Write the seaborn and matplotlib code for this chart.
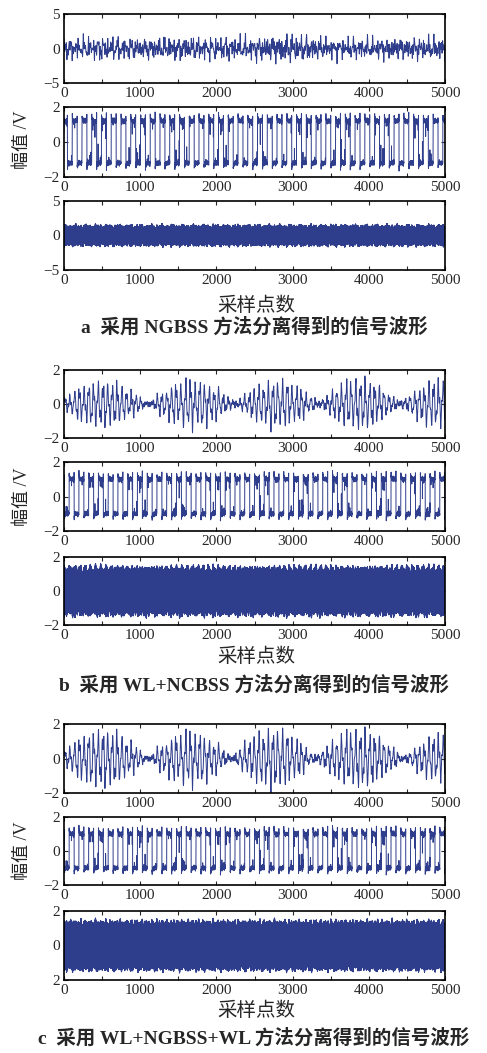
import numpy as np
import matplotlib
matplotlib.use('Agg')
import matplotlib.pyplot as plt
import seaborn as sns

sns.set_style('ticks')
plt.rcParams['font.family'] = ['Liberation Serif', 'Noto Sans CJK SC', 'DejaVu Sans']
plt.rcParams['axes.unicode_minus'] = True

# ---- values ----
n_samples = 5000
x_ticks = [0, 1000, 2000, 3000, 4000, 5000]
x_minor = [500, 1500, 2500, 3500, 4500]

# AM component (panels b1, c1): envelope nulls and lobe peak amplitudes
nulls_b = [-100, 1100, 2250, 3350, 4400, 5500]
peaks_b = [1.45, 1.45, 1.45, 1.6, 1.5]
nulls_c = [-100, 1100, 2200, 3300, 4450, 5550]
peaks_c = [1.8, 1.6, 1.8, 1.8, 1.5]
carrier_period = 62

# NGBSS mixed output (panel a1): peak amplitude every 500 samples
a1_peak_pos = [0, 500, 1000, 1500, 2000, 2500, 3000, 3500, 4000, 4500, 5000]
a1_peak = [1.3, 1.5, 1.3, 1.5, 1.4, 1.5, 1.8, 1.3, 1.3, 1.4, 1.5]

# square-wave component (panels a2, b2, c2)
square_period = 128
square_level = {'a': 1.2, 'b': 1.0, 'c': 1.0}

# dense noise component (panels a3, b3, c3): band half-height and spike height
band_level = {'a': 1.3, 'b': 1.28, 'c': 1.3}
band_spike = {'a': 0.45, 'b': 0.35, 'c': 0.3}

# axis limits and tick labels per panel
y_lims = {'a1': 5, 'a2': 2, 'a3': 5, 'b1': 2, 'b2': 2, 'b3': 2,
          'c1': 2, 'c2': 2, 'c3': 2}
c3_tick_labels = ['2', '0', '2']

captions = ['a  采用 NGBSS 方法分离得到的信号波形',
            'b  采用 WL+NCBSS 方法分离得到的信号波形',
            'c  采用 WL+NGBSS+WL 方法分离得到的信号波形']
x_label = '采样点数'
y_label = '幅值 /V'

line_color = '#2f3e8c'

n = np.arange(n_samples)


def texture(freqs, phases):
    """Deterministic jagged texture built from a few incommensurate tones."""
    t = np.zeros(n_samples)
    for f, p in zip(freqs, phases):
        t += np.sin(2 * np.pi * f * n + p)
    return t / np.abs(t).max()


def am_signal(nulls, peaks):
    env = np.zeros(n_samples)
    sign = np.ones(n_samples)
    for i, a in enumerate(peaks):
        lo, hi = nulls[i], nulls[i + 1]
        m = (n >= lo) & (n < hi)
        env[m] = a * np.sin(np.pi * (n[m] - lo) / (hi - lo))
        sign[m] = (-1) ** i
    carrier = (np.sin(2 * np.pi * n / carrier_period)
               + 0.45 * np.sin(2 * np.pi * n / 23.7 + 0.8)) / 1.3
    wobble = 0.75 + 0.4 * np.abs(texture([0.0089, 0.0143, 0.0231], [0.5, 1.7, 2.9]))
    hf = texture([0.0213, 0.0377, 0.0519, 0.113], [0.3, 1.1, 2.0, 0.6])
    return sign * env * carrier * wobble + 0.25 * hf


def square_signal(level, phase):
    sq = np.sign(np.sin(2 * np.pi * (n + phase) / square_period) + 1e-9)
    pos = (n + phase) % (square_period / 2)
    over = 0.35 * np.exp(-pos / 5.0)
    ripple = 0.2 * texture([0.47, 0.43, 0.311, 0.137], [0.2, 0.9, 1.7, 2.4])
    depth = np.clip(texture([0.0517, 0.0291, 0.0733], [0.4, 1.9, 2.6]), 0, 1)
    glitch = np.where((n % 14 == 0) & (pos > 6), -1.1 * level * depth * sq, 0.0)
    return sq * (level + over) + ripple + glitch


def band_signal(level, spike, k):
    edge = level + spike * np.clip(texture([0.0071 * k, 0.0149, 0.0311, 0.0583],
                                           [k, 0.4, 2.2, 1.3]), -0.6, 1.0)
    edge2 = level + spike * np.clip(texture([0.0093, 0.0171 * k, 0.0277, 0.0641],
                                            [0.7, k, 1.6, 0.2]), -0.6, 1.0)
    return np.where(n % 2 == 0, edge, -edge2)


a1_amp = np.interp(n, a1_peak_pos, a1_peak)
a1 = a1_amp * texture([1 / carrier_period, 0.0437, 0.0311, 0.0719, 0.0113, 0.0587],
                      [0.0, 1.3, 2.1, 0.5, 1.9, 2.7]) * 1.7

signals = {
    'a1': a1,
    'a2': square_signal(square_level['a'], 20),
    'a3': band_signal(band_level['a'], band_spike['a'], 1),
    'b1': am_signal(nulls_b, peaks_b),
    'b2': square_signal(square_level['b'], 60),
    'b3': band_signal(band_level['b'], band_spike['b'], 2),
    'c1': am_signal(nulls_c, peaks_c),
    'c2': square_signal(square_level['c'], 60),
    'c3': band_signal(band_level['c'], band_spike['c'], 3),
}

# ---- layout (pixels) ----
W, H = 487, 1053
panel_px = {
    'a1': (14, 83), 'a2': (107, 177), 'a3': (201, 270),
    'b1': (370, 438), 'b2': (462, 531), 'b3': (557, 625),
    'c1': (724, 793), 'c2': (817, 885), 'c3': (911, 980),
}
left_px, right_px = 64, 445

fig = plt.figure(figsize=(W / 100, H / 100), dpi=100)

for key, (top, bottom) in panel_px.items():
    ax = fig.add_axes([left_px / W, 1 - bottom / H,
                       (right_px - left_px) / W, (bottom - top) / H])
    sns.lineplot(x=n, y=signals[key], ax=ax, color=line_color,
                 linewidth=0.7, estimator=None, errorbar=None)
    lim = y_lims[key]
    ax.set_xlim(0, n_samples)
    ax.set_ylim(-lim, lim)
    ax.set_xticks(x_ticks)
    ax.set_xticks(x_minor, minor=True)
    ax.set_yticks([-lim, 0, lim])
    if key == 'c3':
        ax.set_yticklabels(c3_tick_labels[::-1])
    ax.set_xlabel('')
    ax.set_ylabel('')
    ax.tick_params(which='both', direction='in', top=True, right=True,
                   length=3, width=0.8, labelsize=11, pad=3)
    for sp in ax.spines.values():
        sp.set_linewidth(1.2)
        sp.set_color('black')

label_rows = [(305, 327, 140), (657, 685, 497), (1010, 1038, 851)]
for (yx, yc, yy), cap in zip(label_rows, captions):
    fig.text(256 / W, 1 - yx / H, x_label, ha='center', va='center',
             fontsize=14, family=['Noto Sans CJK SC'])
    fig.text(254 / W, 1 - yc / H, cap, ha='center', va='center',
             fontsize=14, fontweight='bold',
             family=['Liberation Serif', 'Noto Sans CJK SC'])
    fig.text(22 / W, 1 - yy / H, y_label, ha='center', va='center',
             rotation=90, fontsize=13,
             family=['Liberation Serif', 'Noto Sans CJK SC'])

fig.savefig('out.png', dpi=100)
